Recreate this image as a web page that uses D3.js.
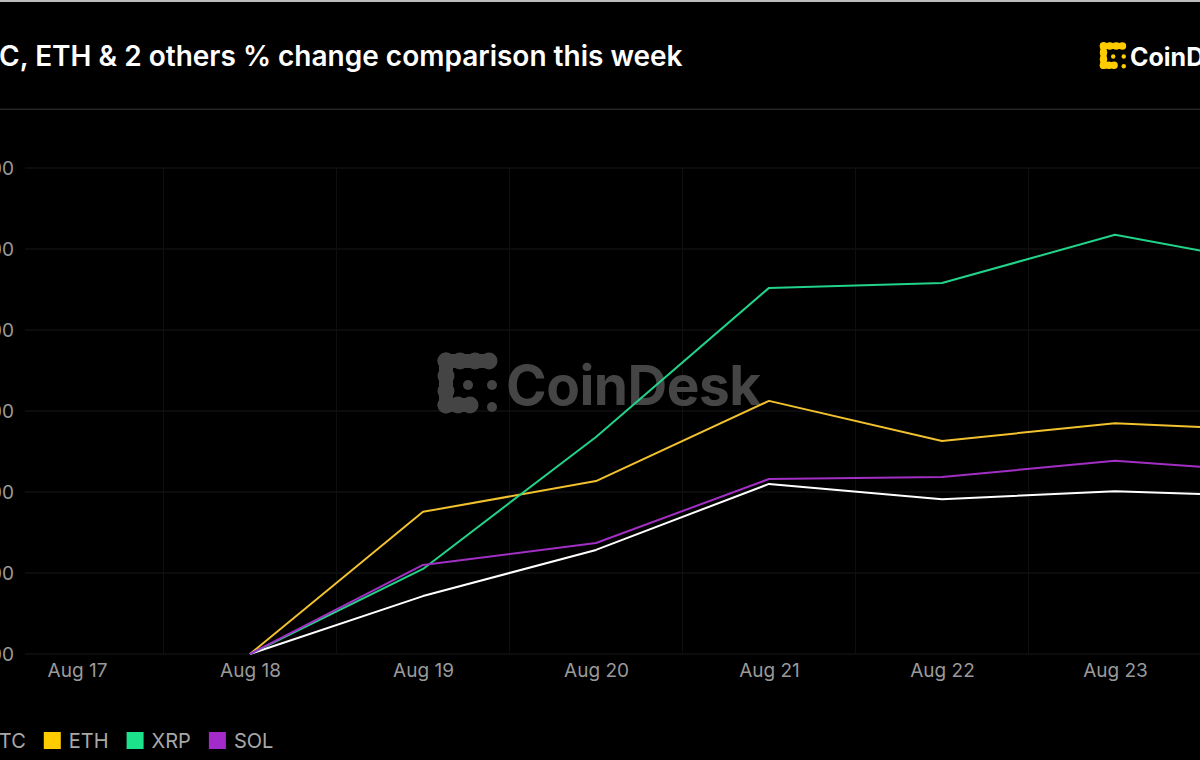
<!DOCTYPE html>
<html>
<head>
<meta charset="utf-8">
<script src="https://cdn.jsdelivr.net/npm/d3@7"></script>
<style>
  html, body { margin: 0; padding: 0; background: #000; overflow: hidden; }
  svg { display: block; }
</style>
</head>
<body>
<svg id="chart" width="1200" height="760"></svg>
<script>
// ---- data ----
const dates = ["Aug 17", "Aug 18", "Aug 19", "Aug 20", "Aug 21", "Aug 22", "Aug 23", "Aug 24"];
const seriesNames = ["BTC", "ETH", "XRP", "SOL"];
const btcValues = [null, 0, 1.43, 2.57, 4.20, 3.82, 4.02, 3.88];
const ethValues = [null, 0, 3.51, 4.27, 6.25, 5.26, 5.70, 5.51];
const xrpValues = [null, 0, 2.10, 5.36, 9.04, 9.16, 10.35, 9.56];
const solValues = [null, 0, 2.20, 2.74, 4.32, 4.37, 4.77, 4.47];
const yTicks = [0, 2, 4, 6, 8, 10, 12];
const titleText = "BTC, ETH & 2 others % change comparison this week";
const colors = { BTC: "#ffffff", ETH: "#f2c12e", XRP: "#22d38a", SOL: "#a12fc4" };
const legendColors = { BTC: "#ffffff", ETH: "#ffcc00", XRP: "#1de28c", SOL: "#a22bc9" };

const seriesData = [
  { name: "BTC", values: btcValues },
  { name: "ETH", values: ethValues },
  { name: "XRP", values: xrpValues },
  { name: "SOL", values: solValues }
];

const svg = d3.select("#chart");
const W = 1200, H = 760;
const FONT = "Inter, 'Noto Sans', 'Liberation Sans', sans-serif";

svg.append("rect").attr("width", W).attr("height", H).attr("fill", "#000");
// top border
svg.append("rect").attr("x", 0).attr("y", 0).attr("width", W).attr("height", 2).attr("fill", "#bdbdbd");
// separator under title
svg.append("rect").attr("x", 0).attr("y", 108.5).attr("width", W).attr("height", 1.5).attr("fill", "#242424");

// measure helper
function measure(str, size, weight) {
  const t = svg.append("text").attr("font-family", FONT).attr("font-size", size)
    .attr("font-weight", weight).text(str);
  const w = t.node().getComputedTextLength();
  t.remove();
  return w;
}

// title (left part cut off by the frame)
const TITLE_SIZE = 28;
const bt = measure("BT", TITLE_SIZE, 600);
svg.append("text")
  .attr("x", -bt).attr("y", 66)
  .attr("font-family", FONT).attr("font-size", TITLE_SIZE).attr("font-weight", 600)
  .attr("fill", "#ffffff")
  .text(titleText);

// scales
const x = d3.scalePoint().domain(dates).range([77, 77 + 173 * (dates.length - 1)]);
const y = d3.scaleLinear().domain([0, 12]).range([654, 168]);

// gridlines
const gridG = svg.append("g");
gridG.selectAll("line.h").data(yTicks).join("line")
  .attr("x1", 25).attr("x2", W)
  .attr("y1", d => y(d)).attr("y2", d => y(d))
  .attr("stroke", "#191919").attr("stroke-width", 1);
const mids = dates.slice(0, -1).map((d, i) => (x(d) + x(dates[i + 1])) / 2);
gridG.selectAll("line.v").data(mids).join("line")
  .attr("x1", d => d).attr("x2", d => d)
  .attr("y1", 168).attr("y2", 654)
  .attr("stroke", "#0f0f0f").attr("stroke-width", 1);

// y axis labels
const yAxis = d3.axisLeft(y).tickValues(yTicks).tickSize(0).tickPadding(0)
  .tickFormat(d3.format(".2f"));
const yg = svg.append("g").attr("transform", "translate(14,0)").call(yAxis);
yg.select(".domain").remove();
yg.selectAll("text").attr("font-family", FONT).attr("font-size", 19)
  .attr("fill", "#9a9a9a").attr("dy", "0.35em");

// x axis labels
const xAxis = d3.axisBottom(x).tickSize(0).tickPadding(0);
const xg = svg.append("g").attr("transform", "translate(0,663)").call(xAxis);
xg.select(".domain").remove();
xg.selectAll("text").attr("font-family", FONT).attr("font-size", 19)
  .attr("fill", "#9a9a9a").attr("dy", "0.71em");

// watermark
function drawIcon(g, color) {
  const top = [8, 22, 37, 51], left = [9, 24, 39, 53], bottom = [8, 20, 32];
  top.forEach(cx => g.append("circle").attr("cx", cx).attr("cy", 9).attr("r", 8.5).attr("fill", color));
  left.forEach(cy => g.append("circle").attr("cx", 8).attr("cy", cy).attr("r", 8.5).attr("fill", color));
  bottom.forEach(cx => g.append("circle").attr("cx", cx).attr("cy", 53).attr("r", 8.5).attr("fill", color));
  g.append("rect").attr("x", 8).attr("y", 2).attr("width", 43).attr("height", 14).attr("fill", color);
  g.append("rect").attr("x", 1).attr("y", 9).attr("width", 14).attr("height", 44).attr("fill", color);
  g.append("rect").attr("x", 8).attr("y", 46).attr("width", 24).attr("height", 14).attr("fill", color);
  [[30, 33], [54, 33], [54, 55]].forEach(p =>
    g.append("circle").attr("cx", p[0]).attr("cy", p[1]).attr("r", 5).attr("fill", color));
}
const wm = svg.append("g").attr("transform", "translate(438,352)");
drawIcon(wm, "#444444");
svg.append("text").attr("x", 506).attr("y", 405)
  .attr("font-family", FONT).attr("font-size", 55).attr("font-weight", 700)
  .attr("fill", "#454545").attr("letter-spacing", -0.5).text("CoinDesk");

// top right logo
const lg = svg.append("g").attr("transform", "translate(1100,42) scale(0.44)");
drawIcon(lg, "#ffcc00");
svg.append("text").attr("x", 1130).attr("y", 66)
  .attr("font-family", FONT).attr("font-size", 25).attr("font-weight", 700)
  .attr("fill", "#ffffff").text("CoinDesk");

// lines
const line = d3.line()
  .defined(d => d.v !== null)
  .x(d => x(d.date))
  .y(d => y(d.v));
const linesG = svg.append("g");
seriesData.forEach(s => {
  const pts = s.values.map((v, i) => ({ date: dates[i], v: v }));
  linesG.append("path").datum(pts)
    .attr("d", line)
    .attr("fill", "none")
    .attr("stroke", colors[s.name])
    .attr("stroke-width", 2)
    .attr("stroke-linejoin", "round");
});

// legend
const LEG_SIZE = 20;
const bW = measure("B", LEG_SIZE, 400);
const legG = svg.append("g");
const legendPos = [];
seriesNames.forEach((n, i) => {
  const textX = i === 0 ? -bW : legendPos[i - 1].end + 18 + 17 + 8;
  const sqX = textX - 8 - 17;
  legG.append("rect").attr("x", sqX).attr("y", 732).attr("width", 17).attr("height", 17)
    .attr("fill", legendColors[n]);
  const t = legG.append("text").attr("x", textX).attr("y", 748)
    .attr("font-family", FONT).attr("font-size", LEG_SIZE).attr("fill", "#a8a8a8").text(n);
  legendPos.push({ end: textX + t.node().getComputedTextLength() });
});
</script>
</body>
</html>
